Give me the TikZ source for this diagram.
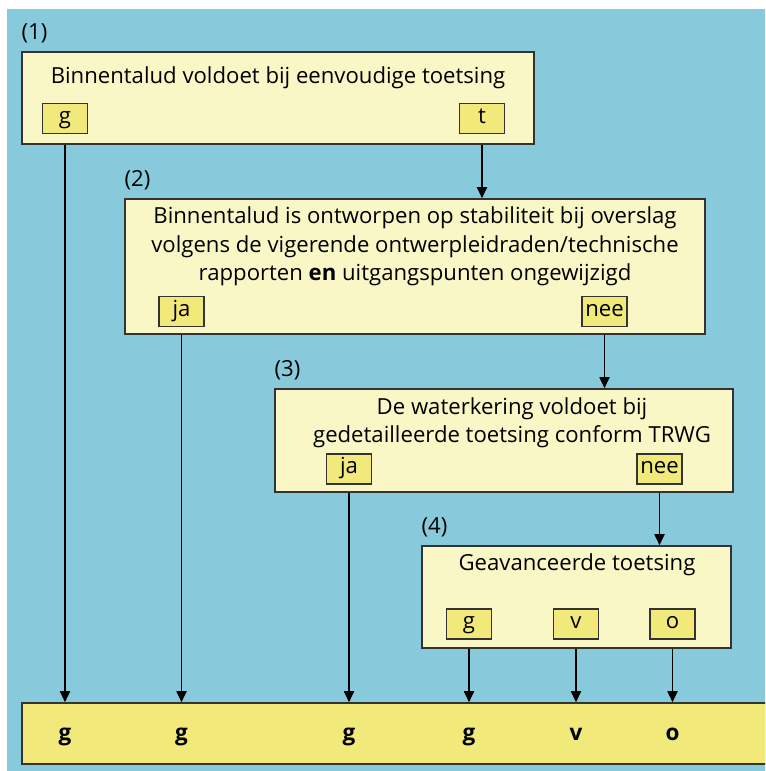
\documentclass[tikz,border=0pt]{standalone}
\usepackage{fontspec}
\setmainfont{Open Sans}
\definecolor{bgblue}{RGB}{134,202,219}
\definecolor{boxcream}{RGB}{250,247,198}
\definecolor{tagyellow}{RGB}{241,234,122}
\usetikzlibrary{arrows.meta, positioning}

\begin{document}
\begin{tikzpicture}[
    x=0.02cm, y=-0.02cm,
    stepbox/.style={rectangle, draw=black!80, line width=0.9pt, fill=boxcream,
                    inner sep=0pt},
    question/.style={font=\fontsize{12.6}{16.2}\selectfont, align=center,
                     inner sep=0pt},
    tag/.style={rectangle, draw=black!80, line width=0.8pt, fill=tagyellow,
                minimum width=0.9cm, minimum height=0.6cm, inner sep=0pt,
                text height=1.45ex, text depth=0.45ex,
                font=\fontsize{12.6}{14}\selectfont},
    nr/.style={font=\fontsize{12.6}{14}\selectfont, inner sep=0pt},
    result/.style={font=\fontsize{12.8}{14}\selectfont\bfseries, inner sep=0pt,
                   text height=1.5ex, text depth=0.4ex},
    flow/.style={draw=black, line width=1pt,
                 -{Triangle[length=0.22cm, width=0.2cm]}}
]
\useasboundingbox (0,0) rectangle (765,771);
\clip (0,0) rectangle (765,771);
\fill[bgblue] (7,9) rectangle (780,790);

% decision boxes
\node[stepbox, minimum width=10.24cm, minimum height=1.84cm] (b1) at (278,98) {};
\node[stepbox, minimum width=11.6cm, minimum height=2.7cm] (b2) at (415,266.5) {};
\node[stepbox, minimum width=9.16cm, minimum height=2.06cm] (b3) at (504,440.5) {};
\node[stepbox, minimum width=6.18cm, minimum height=2.04cm] (b4) at (576.5,597) {};
\node[stepbox, fill=tagyellow, minimum width=15.16cm, minimum height=1.22cm] (out) at (401,733.5) {};

% step numbers
\node[nr, above right=0.16cm and 0cm of b1.north west] (n1) {(1)};
\node[nr, above right=0.16cm and 0cm of b2.north west] (n2) {(2)};
\node[nr, above right=0.16cm and 0cm of b3.north west] (n3) {(3)};
\node[nr, above right=0.16cm and 0cm of b4.north west] (n4) {(4)};

% questions
\node[question] (q1) at (278,78) {Binnentalud voldoet bij eenvoudige toetsing};
\node[question] (q2) at (415,246.5) {Binnentalud is ontworpen op stabiliteit bij overslag\\
    volgens de vigerende ontwerpleidraden/technische\\
    rapporten \textbf{en} uitgangspunten ongewijzigd};
\node[question] (q3) at (512,422.5) {De waterkering voldoet bij\\
    gedetailleerde toetsing conform TRWG};
\node[question] (q4) at (577,565) {Geavanceerde toetsing};

% answers
\node[tag] (g1) at (65,118.5) {g};
\node[tag] (t1) at (482,118.5) {t};
\node[tag] (ja2) at (181.5,311.5) {ja};
\node[tag] (nee2) at (604.5,311.5) {nee};
\node[tag] (ja3) at (349,469) {ja};
\node[tag] (nee3) at (659.5,469) {nee};
\node[tag] (g4) at (469,624) {g};
\node[tag] (v4) at (576,624) {v};
\node[tag] (o4) at (672.5,624) {o};

% outcomes
\node[result] (r1) at (65,735) {g};
\node[result] (r2) at (181.5,735) {g};
\node[result] (r3) at (349,735) {g};
\node[result] (r4) at (469,735) {g};
\node[result] (r5) at (576,735) {v};
\node[result] (r6) at (672.5,735) {o};

% connectors
\draw[flow] (g1 |- b1.south) -- (r1 |- out.north);
\draw[flow] (t1 |- b1.south) -- (t1 |- b2.north);
\draw[flow] (ja2 |- b2.south) -- (r2 |- out.north);
\draw[flow] (nee2 |- b2.south) -- (nee2 |- b3.north);
\draw[flow] (ja3 |- b3.south) -- (r3 |- out.north);
\draw[flow] (nee3 |- b3.south) -- (nee3 |- b4.north);
\draw[flow] (g4 |- b4.south) -- (r4 |- out.north);
\draw[flow] (v4 |- b4.south) -- (r5 |- out.north);
\draw[flow] (o4 |- b4.south) -- (r6 |- out.north);
\end{tikzpicture}
\end{document}
